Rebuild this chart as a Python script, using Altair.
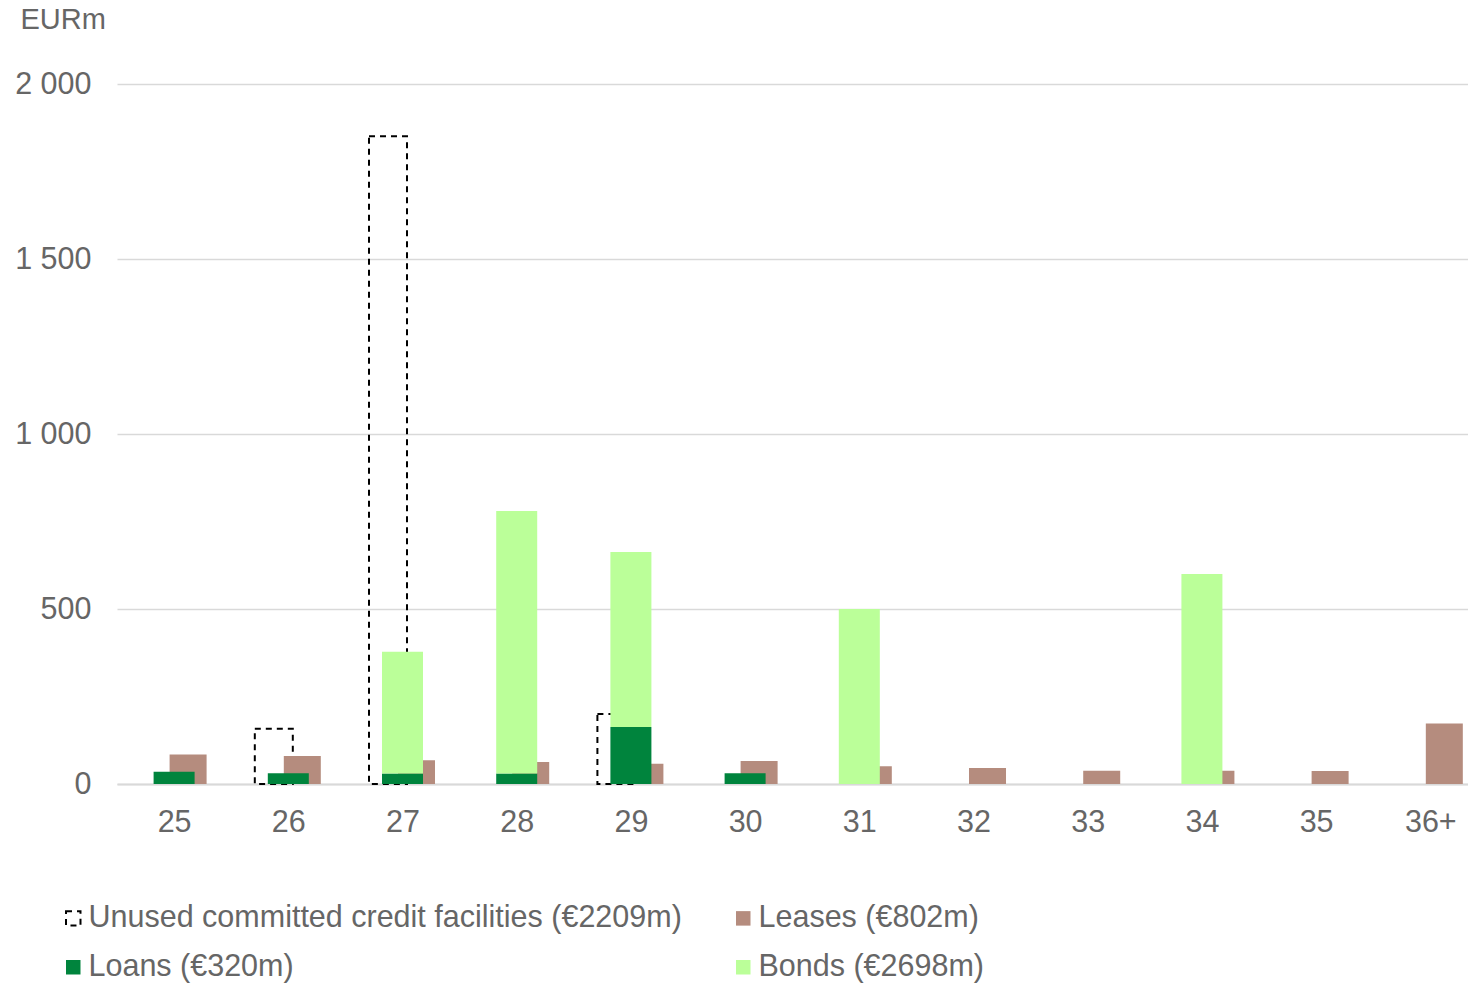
import altair as alt
import pandas as pd

years = ["25", "26", "27", "28", "29", "30", "31", "32", "33", "34", "35", "36+"]
unused = [0, 158, 1851, 0, 200, 0, 0, 0, 0, 0, 0, 0]
loans = [35, 31, 30, 30, 163, 31, 0, 0, 0, 0, 0, 0]
bonds = [0, 0, 348, 750, 500, 0, 500, 0, 0, 600, 0, 0]
leases = [84, 80, 68, 63, 58, 66, 51, 46, 38, 38, 37, 173]

series_names = [
    "Unused committed credit facilities (€2209m)",
    "Leases (€802m)",
    "Loans (€320m)",
    "Bonds (€2698m)",
]
fill_colors = ["transparent", "#b58c7e", "#00843d", "#bbff99"]
stroke_colors = ["#000000", "transparent", "transparent", "transparent"]
dashes = [[6, 5], [1, 0], [1, 0], [1, 0]]

rows = []
for i, yr in enumerate(years):
    rows.append({"idx": i, "series": series_names[0], "lo": 0, "hi": unused[i], "grp": "u"})
    rows.append({"idx": i, "series": series_names[1], "lo": 0, "hi": leases[i], "grp": "l"})
    rows.append({"idx": i, "series": series_names[2], "lo": 0, "hi": loans[i], "grp": "s"})
    rows.append({"idx": i, "series": series_names[3], "lo": loans[i], "hi": loans[i] + bonds[i], "grp": "s"})
df = pd.DataFrame(rows)

TXT = "#666666"
FONT = "Liberation Sans"
FS = 30.5
label_arr = "[" + ",".join("'" + y + "'" for y in years) + "]"

base = alt.Chart(df).encode(
    x=alt.X(
        "idx:Q",
        scale=alt.Scale(domain=[-0.5, 11.33], nice=False, zero=False, padding=0),
        axis=alt.Axis(
            values=list(range(len(years))),
            labelExpr=label_arr + "[datum.value]",
            title=None,
            grid=False,
            ticks=False,
            domain=True,
            domainColor="#d9d9d9",
            domainWidth=2,
            labelFontSize=FS,
            labelColor=TXT,
            labelFont=FONT,
            labelPadding=23,
        ),
    ),
    y=alt.Y(
        "lo:Q",
        scale=alt.Scale(domain=[0, 2000], nice=False, padding=0),
        axis=alt.Axis(
            values=[0, 500, 1000, 1500, 2000],
            labelExpr="replace(format(datum.value, ','), ',', ' ')",
            title="EURm",
            titleAngle=0,
            titleAlign="left",
            titleBaseline="alphabetic",
            titleX=-97,
            titleY=-56,
            titleFontSize=29,
            titleFontWeight="normal",
            titleColor=TXT,
            titleFont=FONT,
            grid=True,
            gridColor="#d9d9d9",
            gridWidth=1.5,
            ticks=False,
            domain=False,
            labelFontSize=FS,
            labelColor=TXT,
            labelFont=FONT,
            labelPadding=26,
        ),
    ),
    y2="hi:Q",
    fill=alt.Fill(
        "series:N",
        scale=alt.Scale(domain=series_names, range=fill_colors),
        legend=alt.Legend(
            title=None,
            orient="none",
            legendX=-59,
            legendY=819,
            columns=2,
            direction="horizontal",
            symbolType="square",
            symbolSize=210,
            symbolStrokeWidth=2,
            labelFontSize=FS,
            labelColor=TXT,
            labelFont=FONT,
            labelOffset=0,
            columnPadding=46,
            rowPadding=18,
            padding=0,
            labelLimit=1000,
        ),
    ),
    stroke=alt.Stroke("series:N", scale=alt.Scale(domain=series_names, range=stroke_colors)),
    strokeDash=alt.StrokeDash("series:N", scale=alt.Scale(domain=series_names, range=dashes)),
)

filt = alt.datum.hi > alt.datum.lo
layer_u = base.transform_filter(filt).transform_filter(alt.datum.grp == "u").mark_bar(
    size=38, xOffset=-14.5, strokeWidth=2
)
layer_l = base.transform_filter(filt).transform_filter(alt.datum.grp == "l").mark_bar(
    size=37, xOffset=14, strokeWidth=0
)
layer_s = base.transform_filter(filt).transform_filter(alt.datum.grp == "s").mark_bar(
    size=41, xOffset=0, strokeWidth=0
)

chart = (
    alt.layer(layer_u, layer_l, layer_s)
    .properties(
        width=1351,
        height=700,
        autosize=alt.AutoSizeParams(type="none"),
        padding={"left": 117, "top": 84, "right": 0, "bottom": 200},
        background="white",
    )
    .configure_view(strokeWidth=0)
)

chart.save("out.html", embed_options={"renderer": "svg", "actions": False})
